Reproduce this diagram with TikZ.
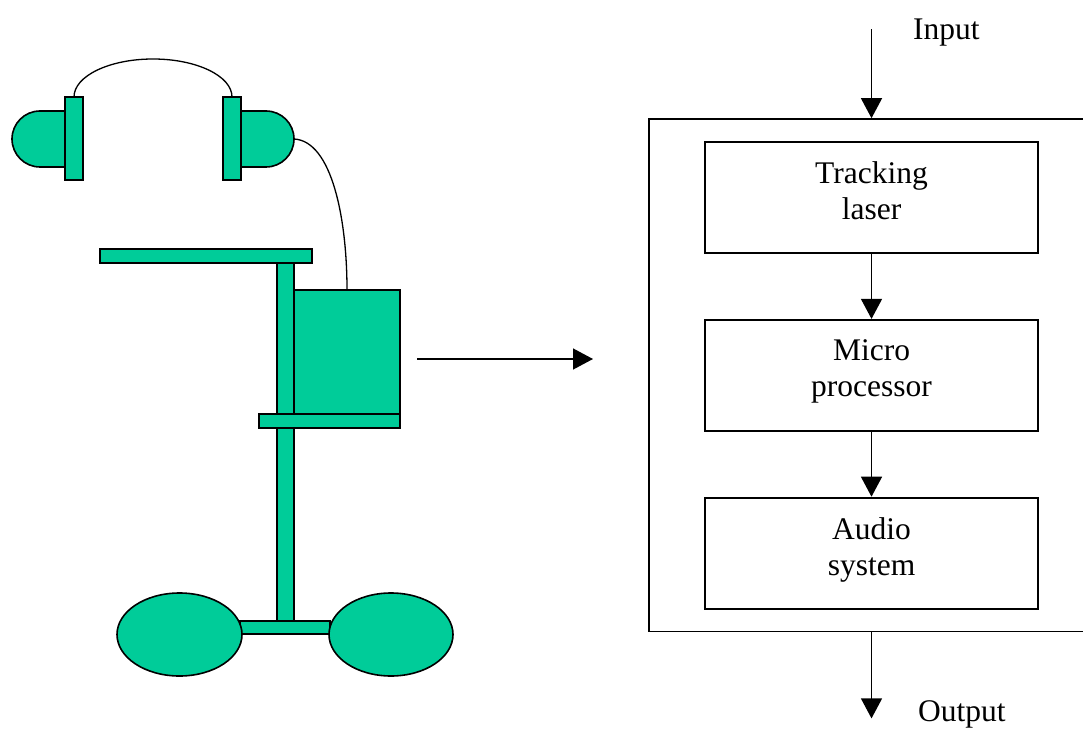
\documentclass[tikz,border=0pt]{standalone}
\usepackage{fontspec}
\setmainfont{Liberation Serif}
\usetikzlibrary{shapes.geometric, arrows.meta, positioning, fit}
\definecolor{partgreen}{RGB}{0,204,153}
\tikzstyle{block} = [rectangle, draw, line width=1.8pt, minimum width=333pt,
    minimum height=111pt, align=center, text depth=14pt,
    font=\fontsize{31.5}{36}\selectfont]
\tikzstyle{unitbox} = [rectangle, draw, line width=1.8pt]
\tikzstyle{tag} = [font=\fontsize{31.5}{36}\selectfont, inner sep=0pt]
\tikzstyle{part} = [draw, line width=1.6pt, fill=partgreen]
\tikzstyle{wire} = [line width=1.3pt]
\tikzstyle{arrow} = [line width=1.3pt, -{Triangle[length=20pt, width=21pt]}]

\begin{document}
\begin{tikzpicture}[x=1pt, y=1pt, node distance=65pt]
    \useasboundingbox (0,0) rectangle (1083,729);

    % Headphones
    \draw [wire] (74,632) arc (180:0:79pt and 38pt);
    \draw [wire] (294,590) .. controls (332,588) and (347,510) .. (347,439);
    \draw [part] (65,618) -- (40,618) arc (90:270:28pt) -- (65,562) -- cycle;
    \draw [part] (65,632) rectangle (83,549);
    \draw [part] (223,632) rectangle (241,549);
    \draw [part] (241,618) -- (266,618) arc (90:-90:28pt) -- (241,562) -- cycle;

    % Stand with wheels
    \draw [part] (240,108) rectangle (330,95);
    \draw [part] (277,466) rectangle (294,108);
    \draw [part] (179.5,94.5) ellipse (62.5pt and 41.5pt);
    \draw [part] (391,94.5) ellipse (62pt and 41.5pt);
    \draw [part] (100,480) rectangle (312,466);
    \draw [part] (259,315) rectangle (400,301);
    \draw [part] (294,439) rectangle (400,315);

    % Link to the block chain
    \coordinate (send) at (417,370);
    \coordinate (recv) at (593,370);
    \draw [arrow] (send) -- (recv);

    % Define blocks
    \node [block] (track) at (871.5,531.5) {Tracking\\laser};
    \node [block, below=of track] (micro) {Micro\\processor};
    \node [block, below=of micro] (audio) {Audio\\system};
    \node [unitbox, fit=(track)(audio), inner xsep=55pt, inner ysep=22pt] (unit) {};

    % Input and output
    \coordinate [above=89pt of unit.north] (in);
    \coordinate [below=86pt of unit.south] (out);
    \node [tag, anchor=base west] (inlabel) at (913,689) {Input};
    \node [tag, anchor=base west] (outlabel) at (918,8) {Output};

    % Arrows for signal flow
    \draw [arrow] (in) -- (unit);
    \draw [arrow] (track) -- (micro);
    \draw [arrow] (micro) -- (audio);
    \draw [arrow] (unit) -- (out);
\end{tikzpicture}
\end{document}
